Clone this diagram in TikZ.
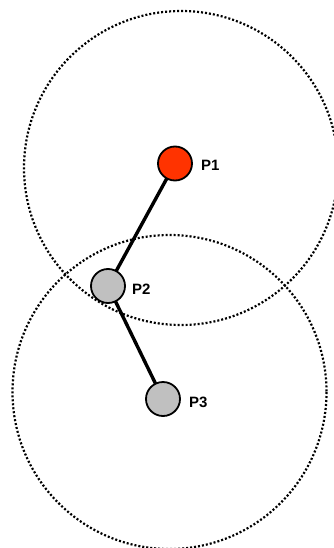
\documentclass[tikz,border=0pt]{standalone}
\usepackage{fontspec}
\setmainfont{Liberation Sans}
\begin{document}
\begin{tikzpicture}[x=1pt,y=-1pt,
  ring/.style={draw=black, line width=2.2pt, dash pattern=on 2pt off 2pt},
  joint/.style={circle, draw=black, line width=1.8pt, minimum size=34pt, inner sep=0pt},
  link/.style={draw=black, line width=3.4pt},
  lbl/.style={anchor=west, inner sep=0pt, font=\fontsize{15}{17}\selectfont\bfseries}]
\useasboundingbox (0,0) rectangle (334,548);
\draw[ring] (181,168) circle[radius=157];
\draw[ring] (169.5,392) circle[radius=157];
\coordinate (c1) at (175,163.5);
\coordinate (c2) at (108,286);
\coordinate (c3) at (163,399);
\draw[link] (c1) -- (c2);
\draw[link] (c2) -- (c3);
\node[joint, fill={rgb,255:red,255;green,51;blue,0}] (p1) at (c1) {};
\node[joint, fill={rgb,255:red,192;green,192;blue,192}] (p2) at (c2) {};
\node[joint, fill={rgb,255:red,192;green,192;blue,192}] (p3) at (c3) {};
\node[lbl] (t1) at (201,165) {P1};
\node[lbl] (t2) at (132,289) {P2};
\node[lbl] (t3) at (189,402) {P3};
\end{tikzpicture}
\end{document}
